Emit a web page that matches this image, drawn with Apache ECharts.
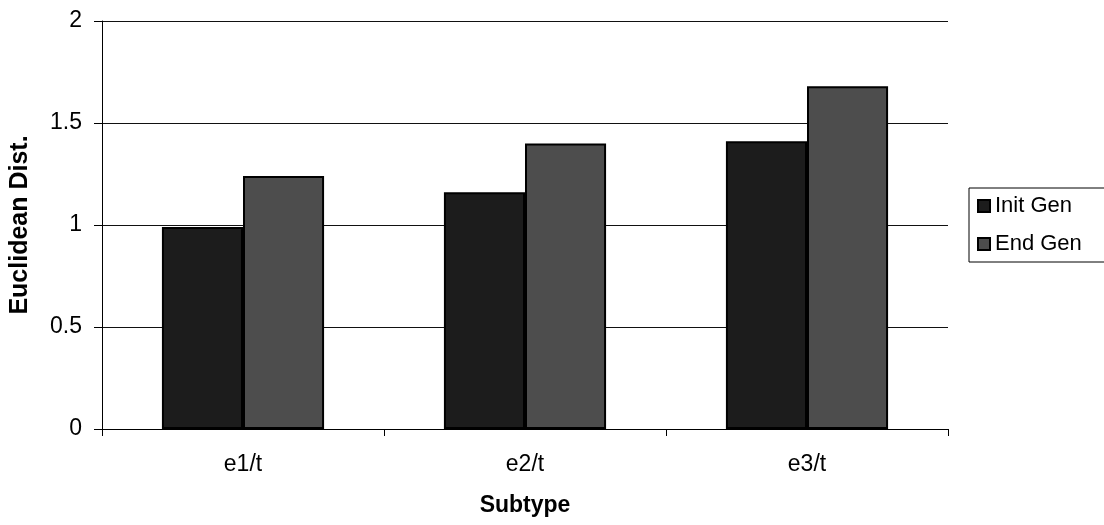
<!DOCTYPE html>
<html>
<head>
<meta charset="utf-8">
<title>Euclidean Distance by Subtype</title>
<script src="https://cdn.jsdelivr.net/npm/echarts@6/dist/echarts.min.js"></script>
<style>
  html, body { margin: 0; padding: 0; background: #fff; }
  #chart { width: 1104px; height: 525px; }
</style>
</head>
<body>
<div id="chart"></div>
<script>
// Subtypes along the x axis
const categories = ['e1/t', 'e2/t', 'e3/t'];
// Euclidean distance at the initial and final generation
const initGen = [0.99, 1.16, 1.41];
const endGen = [1.24, 1.40, 1.68];
// Value axis ticks
const yTicks = [0, 0.5, 1, 1.5, 2];

const FONT = '"Liberation Sans", Arial, sans-serif';

const chart = echarts.init(document.getElementById('chart'), null, { renderer: 'canvas' });

chart.setOption({
  animation: false,
  backgroundColor: '#ffffff',
  textStyle: { fontFamily: FONT, color: '#000' },
  grid: { left: 101, right: 156, top: 21, bottom: 96, containLabel: false },
  legend: {
    orient: 'vertical',
    left: 969,
    top: 188,
    padding: [7, 26, 7, 8],
    itemGap: 16,
    itemWidth: 12,
    itemHeight: 12,
    icon: 'rect',
    borderColor: '#000',
    borderWidth: 1,
    textStyle: { fontFamily: FONT, fontSize: 22, color: '#000', padding: [0, 0, 0, 0] },
    data: ['Init Gen', 'End Gen']
  },
  xAxis: {
    type: 'category',
    data: categories,
    name: 'Subtype',
    nameLocation: 'middle',
    nameGap: 65,
    nameTextStyle: { fontFamily: FONT, fontSize: 23, fontWeight: 'bold', color: '#000' },
    axisLine: { show: true, lineStyle: { color: '#000', width: 1 } },
    axisTick: { show: true, alignWithLabel: false, length: 7, lineStyle: { color: '#000' } },
    axisLabel: { fontFamily: FONT, fontSize: 23, color: '#000', margin: 24 },
    splitLine: { show: false }
  },
  yAxis: {
    type: 'value',
    min: yTicks[0],
    max: yTicks[yTicks.length - 1],
    interval: 0.5,
    name: 'Euclidean Dist.',
    nameLocation: 'middle',
    nameRotate: 90,
    nameGap: 69,
    nameTextStyle: { fontFamily: FONT, fontSize: 25, fontWeight: 'bold', color: '#000' },
    axisLine: { show: true, lineStyle: { color: '#000', width: 1 } },
    axisTick: { show: true, inside: false, length: 8, lineStyle: { color: '#000' } },
    axisLabel: { fontFamily: FONT, fontSize: 23, color: '#000', margin: 20 },
    splitLine: { show: true, lineStyle: { color: '#111', width: 1 } }
  },
  series: [
    {
      name: 'Init Gen',
      type: 'bar',
      data: initGen,
      barGap: '0%',
      barCategoryGap: '42.5%',
      itemStyle: { color: '#1c1c1c', borderColor: '#000', borderWidth: 2 }
    },
    {
      name: 'End Gen',
      type: 'bar',
      data: endGen,
      barGap: '0%',
      barCategoryGap: '42.5%',
      itemStyle: { color: '#4d4d4d', borderColor: '#000', borderWidth: 2 }
    }
  ]
});
</script>
</body>
</html>
